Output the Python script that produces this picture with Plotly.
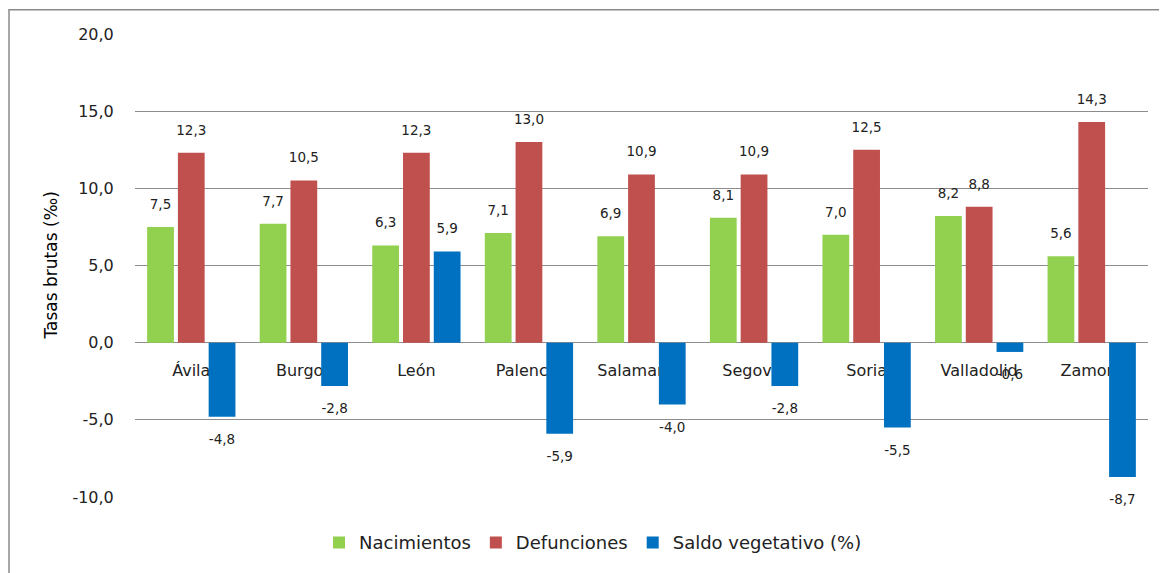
import plotly.graph_objects as go

provincias = ["Ávila", "Burgos", "León", "Palencia", "Salamanca", "Segovia", "Soria", "Valladolid", "Zamora"]
nacimientos = [7.5, 7.7, 6.3, 7.1, 6.9, 8.1, 7.0, 8.2, 5.6]
defunciones = [12.3, 10.5, 12.3, 13.0, 10.9, 10.9, 12.5, 8.8, 14.3]
saldo = [-4.8, -2.8, 5.9, -5.9, -4.0, -2.8, -5.5, -0.6, -8.7]
y_ticks = [-10, -5, 0, 5, 10, 15, 20]
y_ticklabels = ["-10,0", "-5,0", "0,0", "5,0", "10,0", "15,0", "20,0"]

series = [
    ("Nacimientos", nacimientos, "#92D050"),
    ("Defunciones", defunciones, "#C0504D"),
    ("Saldo vegetativo (%)", saldo, "#0070C0"),
]

FONT = "DejaVu Sans"

fig = go.Figure()
for name, vals, color in series:
    fig.add_trace(go.Bar(
        x=provincias, y=vals, name=name,
        marker=dict(color=color, line=dict(width=0)),
        hoverinfo="x+y",
    ))
# data labels: invisible markers grouped like the bars, text outside the bar end
for name, vals, color in series:
    fig.add_trace(go.Scatter(
        x=provincias, y=vals, mode="markers+text", showlegend=False,
        marker=dict(size=[22 if v >= 0 else 26 for v in vals], opacity=0, color=color),
        text=[f"{v:.1f}".replace(".", ",") for v in vals],
        textposition=["top center" if v >= 0 else "bottom center" for v in vals],
        textfont=dict(family=FONT, size=13.5, color="#222222"),
        cliponaxis=False, hoverinfo="skip",
    ))

# page body has an 8px offset; figure coords are page coords minus 8
OFF = 8
W, H = 1167 - OFF, 573 - OFF
L, T = 135 - OFF, 34 - OFF
R = W - (1148 - OFF)
B = H - (500 - OFF)
pw, ph = W - L - R, H - T - B

fig.update_layout(
    width=W, height=H,
    margin=dict(l=L, r=R, t=T, b=B),
    paper_bgcolor="white", plot_bgcolor="white",
    barmode="group", bargap=0.18, bargroupgap=0.13,
    scattermode="group", scattergap=0.18,
    showlegend=True,
    legend=dict(orientation="h", x=(593 - 135) / pw, xanchor="center",
                y=(500 - 546) / ph, yanchor="middle",
                font=dict(family=FONT, size=18, color="#222222"),
                itemwidth=30, traceorder="normal"),
    xaxis=dict(anchor="free", position=1/3, showline=False, showgrid=False,
               layer="below traces",
               ticks="outside", ticklen=13, tickcolor="rgba(0,0,0,0)",
               tickfont=dict(family=FONT, size=16, color="#222222")),
    yaxis=dict(range=[-10, 20], tickvals=y_ticks, ticktext=y_ticklabels,
               showgrid=True, gridcolor="#8c8c8c", gridwidth=1,
               zeroline=True, zerolinecolor="#8c8c8c", zerolinewidth=1,
               showline=False, ticks="outside", ticklen=17, tickcolor="rgba(0,0,0,0)",
               tickfont=dict(family=FONT, size=16, color="#222222")),
    annotations=[dict(text="Tasas brutas (‰)", textangle=-90, xref="paper", yref="paper",
                      x=(50 - 135) / pw, y=0.5, xanchor="center", yanchor="middle",
                      showarrow=False,
                      font=dict(family=FONT, size=17, color="#000000"))],
    shapes=[dict(type="rect", xref="paper", yref="paper",
                 x0=(9 - 135) / pw, x1=(1180 - 135) / pw,
                 y0=(500 - 600) / ph, y1=(500 - 9.5) / ph,
                 line=dict(color="#8a8a8a", width=1.5), fillcolor="rgba(0,0,0,0)", layer="below")],
)

fig.write_html("out.html")
